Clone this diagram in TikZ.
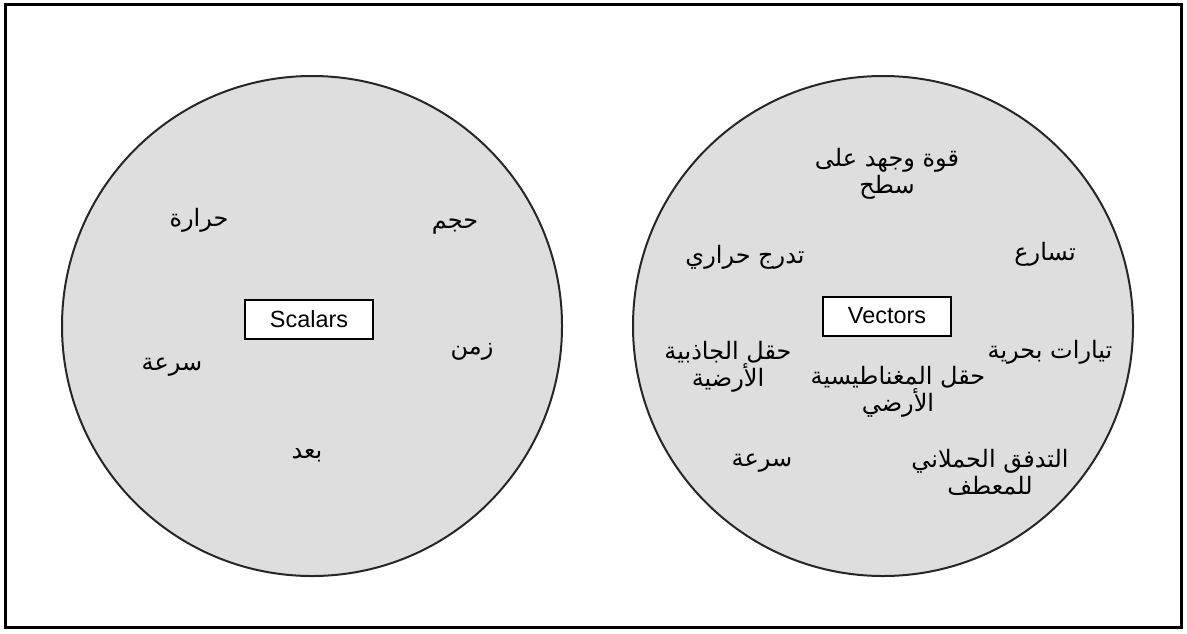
\documentclass[tikz,border=0pt]{standalone}
\usepackage{fontspec}
\setmainfont{Liberation Sans}
\newfontfamily\arabicfont[Script=Arabic]{DejaVu Sans}
\TeXXeTstate=1
\usetikzlibrary{positioning}
\newcommand{\artxt}[1]{\beginR #1\endR}
\tikzset{
  setc/.style={circle, fill=black!13, draw=black!85, line width=1pt, minimum size=250pt, inner sep=0pt},
  tagbox/.style={rectangle, fill=white, draw=black, line width=1pt, minimum width=64pt, minimum height=19.5pt, inner sep=0pt, font=\fontsize{11.7}{14}\selectfont},
  ar/.style={font=\arabicfont\fontsize{12}{13.5}\selectfont, align=center, inner sep=0pt},
  frm/.style={draw=black, line width=1.5pt}
}

\begin{document}
\begin{tikzpicture}[x=0.5pt, y=-0.5pt]
  \useasboundingbox (0,0) rectangle (1187,633);
  \draw[frm] (5,4) rectangle (1181,627);
  \node[setc] (scal) at (312,326) {};
  \node[setc] (vect) at (883,326) {};
  \node[tagbox] (scalbox) at (309,319) {Scalars};
  \node[tagbox] (vectbox) at (887,316) {Vectors};
  % scalars
  \node[ar] (harara) at (199,220) {\artxt{حرارة}};
  \node[ar] (hajm) at (455,227) {\artxt{حجم}};
  \node[ar] (zaman) at (472,352) {\artxt{زمن}};
  \node[ar] (surea) at (172,367) {\artxt{سرعة}};
  \node[ar] (buad) at (307,455) {\artxt{بعد}};
  % vectors
  \node[ar] (quwa) at (887,174) {\artxt{قوة وجهد على}\\\artxt{سطح}};
  \node[ar] (tadruj) at (745,257) {\artxt{تدرج حراري}};
  \node[ar] (tasarue) at (1045,254) {\artxt{تسارع}};
  \node[ar] (tayarat) at (1050,352) {\artxt{تيارات بحرية}};
  \node[ar] (jathibia) at (728,367) {\artxt{حقل الجاذبية}\\\artxt{الأرضية}};
  \node[ar] (maghnat) at (898,392) {\artxt{حقل المغناطيسية}\\\artxt{الأرضي}};
  \node[ar] (tadafuq) at (990,472) {\artxt{التدفق الحملاني}\\\artxt{للمعطف}};
  \node[ar] (surea2) at (762,463) {\artxt{سرعة}};
\end{tikzpicture}
\end{document}
